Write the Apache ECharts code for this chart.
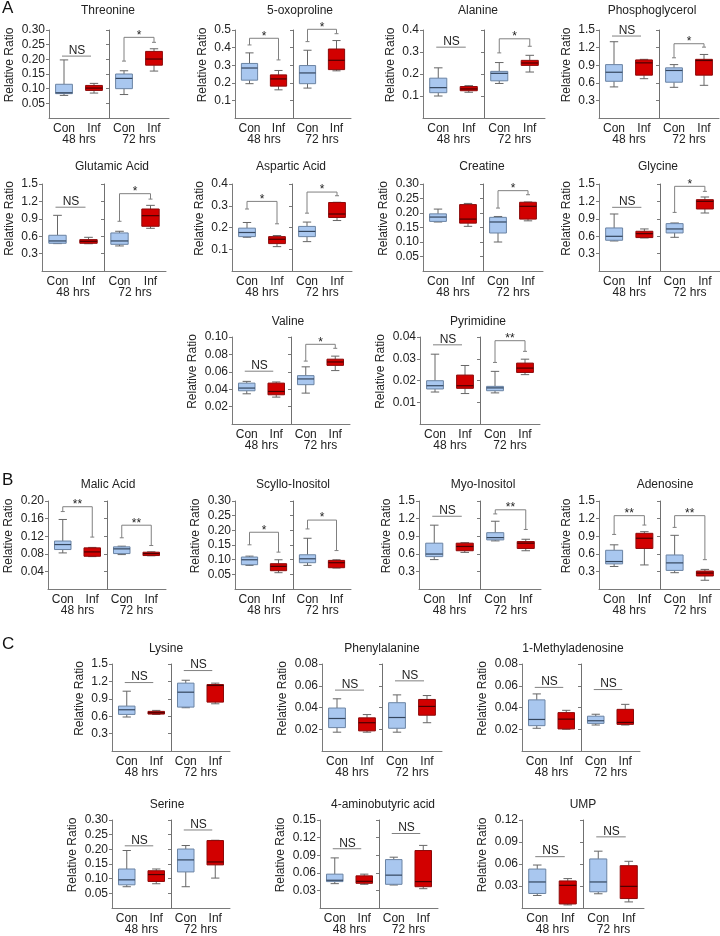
<!DOCTYPE html>
<html><head><meta charset="utf-8">
<script src="https://cdn.jsdelivr.net/npm/echarts@6/dist/echarts.min.js"></script>
<style>html,body{margin:0;padding:0;background:#fff}#c{width:720px;height:936px}</style>
</head><body><div id="c"></div>
<script>
// ---------- data ----------
const groupLabels = ['Con', 'Inf', 'Con', 'Inf'];
const timeLabels = ['48 hrs', '72 hrs'];
const titles = ['Threonine','5-oxoproline','Alanine','Phosphoglycerol','Glutamic Acid','Aspartic Acid','Creatine','Glycine','Valine','Pyrimidine','Malic Acid','Scyllo-Inositol','Myo-Inositol','Adenosine','Lysine','Phenylalanine','1-Methyladenosine','Serine','4-aminobutyric acid','UMP'];
const sectionLetters = ['A', 'B', 'C'];
// y axis ticks: max, step, decimals
const yMax = [0.30,0.5,0.4,1.5, 1.5,0.4,0.30,1.5, 0.10,0.04, 0.20,0.30,1.5,1.5, 1.5,0.08,0.08, 0.30,0.15,0.12];
const yStep = [0.05,0.1,0.1,0.3, 0.3,0.1,0.05,0.3, 0.02,0.01, 0.04,0.05,0.3,0.3, 0.3,0.02,0.02, 0.05,0.03,0.03];
const yDec = [2,1,1,1, 1,1,2,1, 2,2, 2,2,1,1, 1,2,2, 2,2,2];

// boxes [min, q1, median, q3, max] for Con48, Inf48, Con72, Inf72
const threonine = [[0.077,0.083,0.086,0.115,0.198],[0.085,0.094,0.102,0.111,0.118],[0.080,0.100,0.135,0.150,0.161],[0.160,0.180,0.201,0.227,0.236]];
const oxoproline = [[0.195,0.215,0.284,0.31,0.37],[0.16,0.181,0.222,0.245,0.27],[0.17,0.195,0.256,0.298,0.385],[0.268,0.275,0.328,0.392,0.44]];
const alanine = [[0.10,0.115,0.138,0.181,0.228],[0.117,0.124,0.132,0.143,0.147],[0.157,0.169,0.203,0.212,0.252],[0.209,0.239,0.250,0.262,0.285]];
const phosphoglycerol = [[0.53,0.626,0.78,0.91,1.30],[0.67,0.73,0.94,0.99,1.0],[0.523,0.61,0.81,0.855,0.91],[0.557,0.73,0.98,1.0,1.083]];
const glutamic = [[0.472,0.478,0.518,0.616,0.96],[0.47,0.478,0.512,0.541,0.581],[0.432,0.46,0.518,0.656,0.685],[0.736,0.771,0.954,1.069,1.132]];
const aspartic = [[0.155,0.158,0.177,0.197,0.223],[0.112,0.126,0.146,0.158,0.163],[0.135,0.158,0.182,0.205,0.225],[0.232,0.246,0.262,0.315,0.316]];
const creatine = [[0.169,0.171,0.186,0.197,0.2135],[0.154,0.165,0.179,0.229,0.233],[0.10,0.131,0.169,0.185,0.188],[0.173,0.179,0.223,0.237,0.238]];
const glycine = [[0.518,0.53,0.598,0.742,0.983],[0.57,0.576,0.644,0.685,0.725],[0.581,0.656,0.725,0.817,0.828],[1.0,1.069,1.201,1.23,1.276]];
const valine = [[0.0347,0.0382,0.0413,0.047,0.049],[0.0309,0.0336,0.0374,0.047,0.0483],[0.0355,0.0452,0.0518,0.0556,0.0657],[0.0614,0.0674,0.0713,0.0745,0.078]];
const pyrimidine = [[0.0147,0.0161,0.0176,0.0199,0.0321],[0.014,0.0164,0.0176,0.0225,0.0269],[0.0143,0.0153,0.0166,0.0173,0.0242],[0.0227,0.0237,0.0257,0.028,0.0298]];
const malic = [[0.082,0.0897,0.101,0.109,0.158],[0.0736,0.0744,0.0843,0.0935,0.0945],[0.0782,0.0805,0.0912,0.0958,0.0973],[0.0755,0.076,0.0805,0.0836,0.0845]];
const scyllo = [[0.0805,0.0828,0.0997,0.109,0.112],[0.0556,0.0624,0.0771,0.0862,0.0997],[0.0805,0.0896,0.103,0.1167,0.173],[0.0715,0.0726,0.0896,0.0975,0.0997]];
const myo = [[0.501,0.552,0.596,0.781,1.088],[0.624,0.652,0.725,0.781,0.79],[0.82,0.837,0.876,0.96,1.155],[0.652,0.691,0.781,0.809,0.848]];
const adenosine = [[0.384,0.428,0.468,0.66,0.753],[0.41,0.691,0.865,0.949,0.977],[0.278,0.317,0.445,0.58,0.915],[0.149,0.222,0.272,0.306,0.334]];
const lysine = [[0.586,0.631,0.711,0.774,1.031],[0.63,0.637,0.66,0.683,0.70],[0.746,0.757,1.014,1.17,1.22],[0.814,0.843,1.13,1.146,1.17]];
const phenylalanine = [[0.0173,0.0215,0.0299,0.0395,0.048],[0.0173,0.0185,0.026,0.0305,0.0335],[0.0173,0.0209,0.0308,0.0444,0.0516],[0.026,0.0329,0.041,0.0474,0.051]];
const methyladenosine = [[0.0209,0.0233,0.029,0.047,0.0525],[0.020,0.0203,0.0293,0.0353,0.0374],[0.0239,0.0254,0.0278,0.032,0.0338],[0.0239,0.0245,0.0263,0.0383,0.0429]];
const serine = [[0.0725,0.079,0.096,0.133,0.196],[0.0827,0.0905,0.114,0.127,0.133],[0.0725,0.123,0.164,0.201,0.213],[0.102,0.147,0.157,0.230,0.231]];
const gaba = [[0.0415,0.045,0.0473,0.0577,0.0854],[0.0404,0.0421,0.0455,0.0548,0.0577],[0.0392,0.0404,0.056,0.0825,0.0866],[0.0329,0.0363,0.045,0.098,0.1067]];
const ump = [[0.0171,0.0198,0.0355,0.0531,0.0586],[0.0042,0.0055,0.0309,0.0369,0.0401],[0.0194,0.0221,0.0355,0.0669,0.0775],[0.0083,0.0129,0.0295,0.0577,0.0637]];

// significance per time point: ['NS', lineY] or [stars, leftStart, top, rightStart]
const threonineSig = [['NS',0.211],['*',0.194,0.275,0.258]];
const oxoprolineSig = [['*',0.415,0.453,0.33],['*',0.434,0.504,0.479]];
const alanineSig = [['NS',0.322],['*',0.296,0.36,0.326]];
const phosphoglycerolSig = [['NS',1.397],['*',1.026,1.266,1.208]];
const glutamicSig = [['NS',1.10],['*',0.857,1.333,1.24]];
const asparticSig = [['*',0.285,0.32,0.217],['*',0.266,0.363,0.346]];
const creatineSig = [null,['*',0.217,0.277,0.263]];
const glycineSig = [['NS',1.098],['*',1.01,1.46,1.373]];
const valineSig = [['NS',0.0607],['*',0.0723,0.0916,0.087]];
const pyrimidineSig = [['NS',0.0364],['**',0.0283,0.0383,0.0334]];
const malicSig = [['**',0.176,0.187,0.118],['**',0.1164,0.145,0.0988]];
const scylloSig = [['*',0.1506,0.1935,0.1257],['*',0.2048,0.235,0.131]];
const myoSig = [['NS',1.24],['**',1.28,1.35,1.015]];
const adenosineSig = [['**',0.93,1.25,1.09],['**',1.05,1.25,0.50]];
const lysineSig = [['NS',1.18],['NS',1.387]];
const phenylalanineSig = [['NS',0.056],['NS',0.0645]];
const methyladenosineSig = [['NS',0.0585],['NS',0.0565]];
const serineSig = [['NS',0.212],['NS',0.266]];
const gabaSig = [['NS',0.101],['NS',0.127]];
const umpSig = [['NS',0.070],['NS',0.097]];

const boxSets = [threonine,oxoproline,alanine,phosphoglycerol,glutamic,aspartic,creatine,glycine,valine,pyrimidine,malic,scyllo,myo,adenosine,lysine,phenylalanine,methyladenosine,serine,gaba,ump];
const sigSets = [threonineSig,oxoprolineSig,alanineSig,phosphoglycerolSig,glutamicSig,asparticSig,creatineSig,glycineSig,valineSig,pyrimidineSig,malicSig,scylloSig,myoSig,adenosineSig,lysineSig,phenylalanineSig,methyladenosineSig,serineSig,gabaSig,umpSig];

// ---------- layout (positions only) ----------
// [gridLeft, gridTop, gridWidth, gridHeight, titleX, titleY]
const layout = [
  [49,30,120,88,108,11],[235,30,116,88,300,11],[423,30,122,88,478,11],[599,30,120,88,652,11],
  [42,184,124,87,112,167],[232,184,120,87,291,167],[423,184,120,87,482,167],[599,184,122,87,658,167],
  [232,337,118,87,288,322],[420,337,120,87,478,322],
  [48,501,118,88,108,485],[235,501,116,88,293,485],[419,501,122,88,483,485],[599,501,122,88,665,485],
  [112,664,118,87,166,649],[322,664,120,87,382,649],[522,664,118,87,573,649],
  [112,820,118,88,167,805],[320,820,118,88,383,805],[522,820,122,88,583,805]
];
const letterPos = [[2,0],[2,472],[2,636]];

const FONT = '"Liberation Sans", Arial, sans-serif';
const TXT = '#222';
const AX = '#7a7a7a';

const grid = [], xAxis = [], yAxis = [], series = [], graphic = [];

boxSets.forEach((boxes, i) => {
  const L = layout[i];
  const dec = yDec[i];
  grid.push({left: L[0], top: L[1], width: L[2], height: L[3]});
  xAxis.push({
    type: 'category', gridIndex: i, data: groupLabels, boundaryGap: true,
    axisLine: {lineStyle: {color: AX}},
    axisTick: {alignWithLabel: true, length: 3, lineStyle: {color: AX}},
    axisLabel: {color: TXT, fontSize: 12, margin: 5, fontFamily: FONT}
  });
  xAxis.push({
    type: 'category', gridIndex: i, data: timeLabels, position: 'bottom', offset: 11,
    axisLine: {show: false}, axisTick: {show: false},
    axisLabel: {color: TXT, fontSize: 12, margin: 5, fontFamily: FONT}
  });
  yAxis.push({
    type: 'value', gridIndex: i, min: 0, max: yMax[i], interval: yStep[i],
    splitLine: {show: false},
    axisLine: {show: true, lineStyle: {color: AX}},
    axisTick: {show: true, length: 3, lineStyle: {color: AX}},
    axisLabel: {showMinLabel: false, color: TXT, fontSize: 12, margin: 4, fontFamily: FONT,
      formatter: v => v.toFixed(dec)},
    name: 'Relative Ratio', nameLocation: 'middle', nameGap: dec === 1 ? 26 : 33,
    nameTextStyle: {color: TXT, fontSize: 12, fontFamily: FONT, padding: [0, 0, 0, 18]}
  });
  yAxis.push({
    type: 'value', gridIndex: i, min: 0, max: yMax[i], interval: yStep[i],
    position: 'left', offset: -L[2] / 2,
    splitLine: {show: false},
    axisLine: {show: true, lineStyle: {color: '#707070'}},
    axisTick: {show: true, length: 3, lineStyle: {color: AX}},
    axisLabel: {show: false}
  });

  series.push({
    type: 'custom', xAxisIndex: 2 * i, yAxisIndex: 2 * i, clip: false,
    data: boxes.map((b, k) => [k, b[0], b[1], b[2], b[3], b[4]]),
    renderItem: (params, api) => {
      const k = api.value(0);
      const x = api.coord([k, 0])[0];
      const bw = api.size([1, 0])[0];
      const yv = [1, 2, 3, 4, 5].map(d => api.coord([k, api.value(d)])[1]);
      const half = bw * 0.28, cap = bw * 0.14;
      const con = k % 2 === 0;
      const fill = con ? '#a9c7ef' : '#d20000';
      const stroke = con ? '#6a83a3' : '#8c0a0a';
      const med = con ? '#34465e' : '#4a0000';
      const wc = '#666';
      const ln = (x1, y1, x2, y2, c, w) => ({type: 'line', shape: {x1, y1, x2, y2}, style: {stroke: c, lineWidth: w || 1}});
      return {type: 'group', children: [
        ln(x, yv[4], x, yv[3], wc), ln(x, yv[1], x, yv[0], wc),
        ln(x - cap, yv[4], x + cap, yv[4], wc), ln(x - cap, yv[0], x + cap, yv[0], wc),
        {type: 'rect', shape: {x: x - half, y: yv[3], width: 2 * half, height: Math.max(yv[1] - yv[3], 1)},
         style: {fill: fill, stroke: stroke, lineWidth: 1}},
        ln(x - half, yv[2], x + half, yv[2], med, 1.2)
      ]};
    }
  });

  const sigs = sigSets[i];
  const items = [], labels = [];
  sigs.forEach((s, h) => {
    if (!s) return;
    if (s[0] === 'NS') items.push([2 * h, 2 * h + 1, s[1], s[1], s[1]]);
    else items.push([2 * h, 2 * h + 1, s[1], s[2], s[3]]);
    labels.push(s[0]);
  });
  series.push({
    type: 'custom', xAxisIndex: 2 * i, yAxisIndex: 2 * i, clip: false,
    data: items,
    renderItem: (params, api) => {
      const lab = labels[params.dataIndex];
      const x0 = api.coord([api.value(0), 0])[0];
      const x1 = api.coord([api.value(1), 0])[0];
      const yl = api.coord([0, api.value(2)])[1];
      const yt = api.coord([0, api.value(3)])[1];
      const yr = api.coord([0, api.value(4)])[1];
      const c = '#808080';
      if (lab === 'NS') {
        return {type: 'group', children: [
          {type: 'line', shape: {x1: x0 - 2, y1: yt, x2: x1 - 3, y2: yt}, style: {stroke: c, lineWidth: 1}},
          {type: 'text', x: (x0 + x1) / 2 - 2, y: yt - 5.5,
           style: {text: 'NS', fill: TXT, fontSize: 12, fontFamily: FONT, align: 'center', verticalAlign: 'middle'}}
        ]};
      }
      return {type: 'group', children: [
        {type: 'polyline', shape: {points: [[x0, yl], [x0, yt], [x1, yt], [x1, yr]]}, style: {stroke: c, fill: null, lineWidth: 1}},
        {type: 'line', shape: {x1: x0 - 2, y1: yl, x2: x0 + 2, y2: yl}, style: {stroke: c, lineWidth: 1}},
        {type: 'line', shape: {x1: x1 - 2, y1: yr, x2: x1 + 2, y2: yr}, style: {stroke: c, lineWidth: 1}},
        {type: 'text', x: (x0 + x1) / 2, y: yt - 2,
         style: {text: lab, fill: TXT, fontSize: 12, fontFamily: FONT, align: 'center', verticalAlign: 'middle'}}
      ]};
    }
  });

  graphic.push({type: 'text', x: L[4], y: L[5],
    style: {text: titles[i], fill: TXT, fontSize: 12, fontFamily: FONT, align: 'center', verticalAlign: 'middle'}});
});

sectionLetters.forEach((t, j) => {
  graphic.push({type: 'text', x: letterPos[j][0], y: letterPos[j][1],
    style: {text: t, fill: '#111', fontSize: 17, fontFamily: FONT}});
});

const chart = echarts.init(document.getElementById('c'));
chart.setOption({animation: false, backgroundColor: '#fff', grid, xAxis, yAxis, series, graphic});
</script>
</body></html>
